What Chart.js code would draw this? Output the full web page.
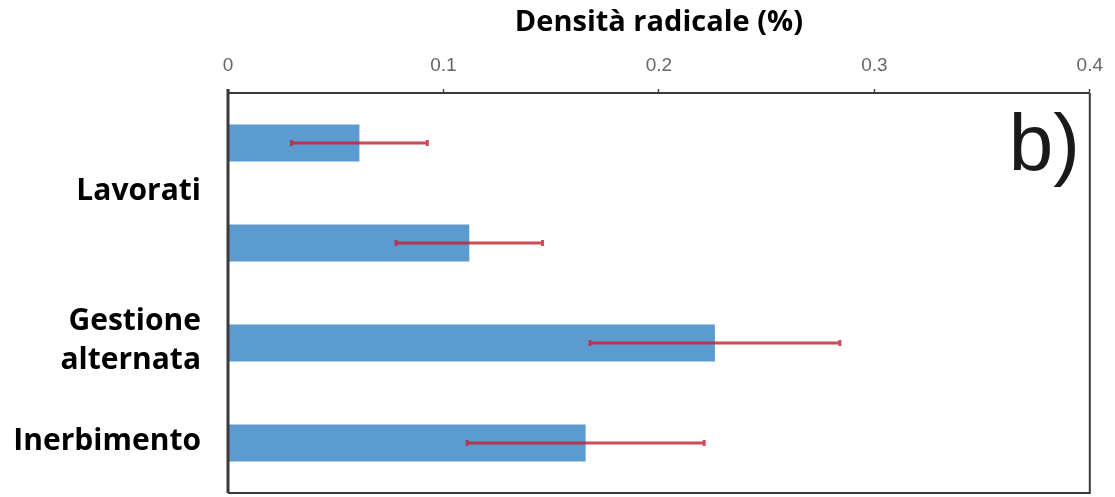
<!DOCTYPE html>
<html><head><meta charset="utf-8">
<script src="https://cdn.jsdelivr.net/npm/chart.js@4.4.0/dist/chart.umd.min.js"></script>
<style>html,body{margin:0;padding:0;background:#fff}#wrap{width:1115px;height:497px}</style>
</head><body><div id="wrap"><canvas id="c" width="1115" height="497"></canvas></div>
<script>
// Root density per management type, with standard deviation
const categories = ['Lavorati A', 'Lavorati B', 'Gestione alternata', 'Inerbimento'];
const density = [0.061, 0.112, 0.226, 0.166];
const errors = [0.0315, 0.034, 0.058, 0.055];
// Left-hand labels: each group covers one or more bars
const groupLabels = [['Lavorati'], ['Gestione', 'alternata'], ['Inerbimento']];
const groupMembers = [[0, 1], [2], [3]];
const xTicks = [0, 0.1, 0.2, 0.3, 0.4];
const axisTitle = 'Densità radicale (%)';
const panelTag = 'b)';

const errorBarPlugin = {
  id: 'errorBars',
  afterDatasetsDraw(chart) {
    const { ctx, scales: { x, y } } = chart;
    ctx.save();
    ctx.strokeStyle = 'rgba(195,35,50,0.82)';
    ctx.lineWidth = 3;
    density.forEach((v, i) => {
      const yc = y.getPixelForValue(i);
      const x0 = x.getPixelForValue(v - errors[i]);
      const x1 = x.getPixelForValue(v + errors[i]);
      ctx.beginPath();
      ctx.moveTo(x0, yc); ctx.lineTo(x1, yc);
      ctx.moveTo(x0, yc - 3); ctx.lineTo(x0, yc + 3);
      ctx.moveTo(x1, yc - 3); ctx.lineTo(x1, yc + 3);
      ctx.stroke();
    });
    ctx.restore();
  }
};

const framePlugin = {
  id: 'frame',
  afterDraw(chart) {
    const { ctx, chartArea: a, scales: { y } } = chart;
    ctx.save();
    ctx.strokeStyle = '#3a3a3a';
    ctx.lineWidth = 2;
    ctx.beginPath();
    ctx.moveTo(a.right, a.top); ctx.lineTo(a.right, a.bottom);
    ctx.lineTo(a.left, a.bottom);
    ctx.stroke();
    ctx.lineWidth = 3;
    ctx.beginPath();
    ctx.moveTo(a.left, a.top - 4); ctx.lineTo(a.left, a.bottom);
    ctx.stroke();

    // group labels on the left
    ctx.fillStyle = '#000';
    ctx.font = 'bold 30px "Open Sans"';
    ctx.textAlign = 'right';
    ctx.textBaseline = 'middle';
    const lh = 39;
    groupLabels.forEach((lines, g) => {
      const ids = groupMembers[g];
      const yc = ids.reduce((s, i) => s + y.getPixelForValue(i), 0) / ids.length - 2;
      lines.forEach((t, k) => {
        ctx.fillText(t, a.left - 27, yc + (k - (lines.length - 1) / 2) * lh);
      });
    });

    // panel tag
    ctx.font = '80px "Liberation Sans"';
    ctx.textBaseline = 'alphabetic';
    ctx.fillStyle = '#1a1a1a';
    ctx.fillText(panelTag, a.right - 10, a.top + 77);
    ctx.restore();
  }
};

new Chart(document.getElementById('c'), {
  type: 'bar',
  data: {
    labels: categories,
    datasets: [{
      data: density,
      backgroundColor: '#5b9bd0',
      borderWidth: 0,
      categoryPercentage: 1,
      barPercentage: 0.37
    }]
  },
  options: {
    indexAxis: 'y',
    responsive: false,
    devicePixelRatio: 1,
    animation: false,
    layout: { padding: { left: 228, right: 22, top: 0, bottom: 4 } },
    plugins: { legend: { display: false }, tooltip: { enabled: false } },
    scales: {
      x: {
        type: 'linear',
        position: 'top',
        min: 0,
        max: 0.4,
        afterBuildTicks(scale) { scale.ticks = xTicks.map(v => ({ value: v })); },
        afterFit(scale) { scale.height = 93; },
        ticks: {
          callback: v => String(+v.toFixed(1)),
          color: '#666',
          font: { family: '"Liberation Sans"', size: 19 },
          padding: 12,
          maxRotation: 0
        },
        grid: { drawOnChartArea: false, tickLength: 4, color: '#444', tickWidth: 1.5 },
        border: { display: true, color: '#3a3a3a', width: 2 },
        title: {
          display: true,
          text: axisTitle,
          color: '#000',
          font: { family: '"Open Sans"', weight: 'bold', size: 29 },
          padding: { top: 5, bottom: 6 }
        }
      },
      y: {
        display: false,
        grid: { display: false }
      }
    }
  },
  plugins: [errorBarPlugin, framePlugin]
});
</script>
</body></html>
